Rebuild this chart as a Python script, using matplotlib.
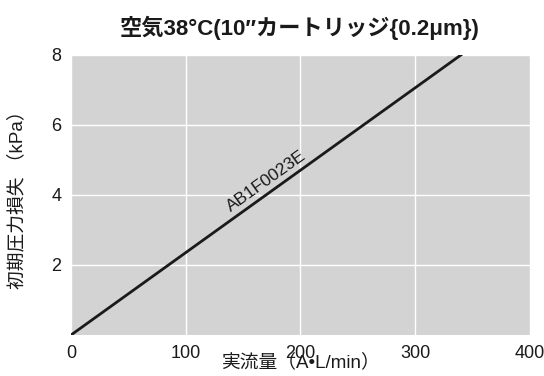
import matplotlib
matplotlib.use("Agg")
import matplotlib.pyplot as plt

plt.rcParams['font.family'] = ['Liberation Sans', 'Noto Sans CJK JP', 'DejaVu Sans']

flow = [0, 340]
pressure = [0, 8]
xticks = [0, 100, 200, 300, 400]
yticks = [2, 4, 6, 8]
title = "空気38°C(10\u2033カートリッジ{0.2μm})"
xlabel = "実流量（A•L/min）"
ylabel = "初期圧力損失 （kPa）"
series_label = "AB1F0023E"

fig = plt.figure(figsize=(5.44, 3.76), dpi=100)
ax = fig.add_axes([0.1305, 0.109, 0.8435, 0.745])
ax.set_facecolor('#d3d3d3')
ax.plot(flow, pressure, color='#1a1a1a', lw=2)
ax.set_xlim(0, 400)
ax.set_ylim(0, 8)
ax.set_xticks(xticks)
ax.set_yticks(yticks)
ax.grid(True, color='white', lw=1)
ax.set_axisbelow(True)
for s in ax.spines.values():
    s.set_visible(False)
ax.tick_params(length=0, labelsize=13, pad=7, colors='#1a1a1a')
ax.set_xlabel(xlabel, fontsize=13.5, labelpad=-6, color='#1a1a1a')
ax.set_ylabel(ylabel, fontsize=13.5, labelpad=18, color='#1a1a1a')
fig.text(0.55, 0.925, title, ha='center', va='center', fontsize=16, fontweight='bold', color='#1a1a1a')
ax.text(170, 4.4, series_label, rotation=35.5, rotation_mode='anchor', ha='center', va='center',
        fontsize=12.5, color='#1a1a1a')
fig.savefig('out.png', dpi=100)
